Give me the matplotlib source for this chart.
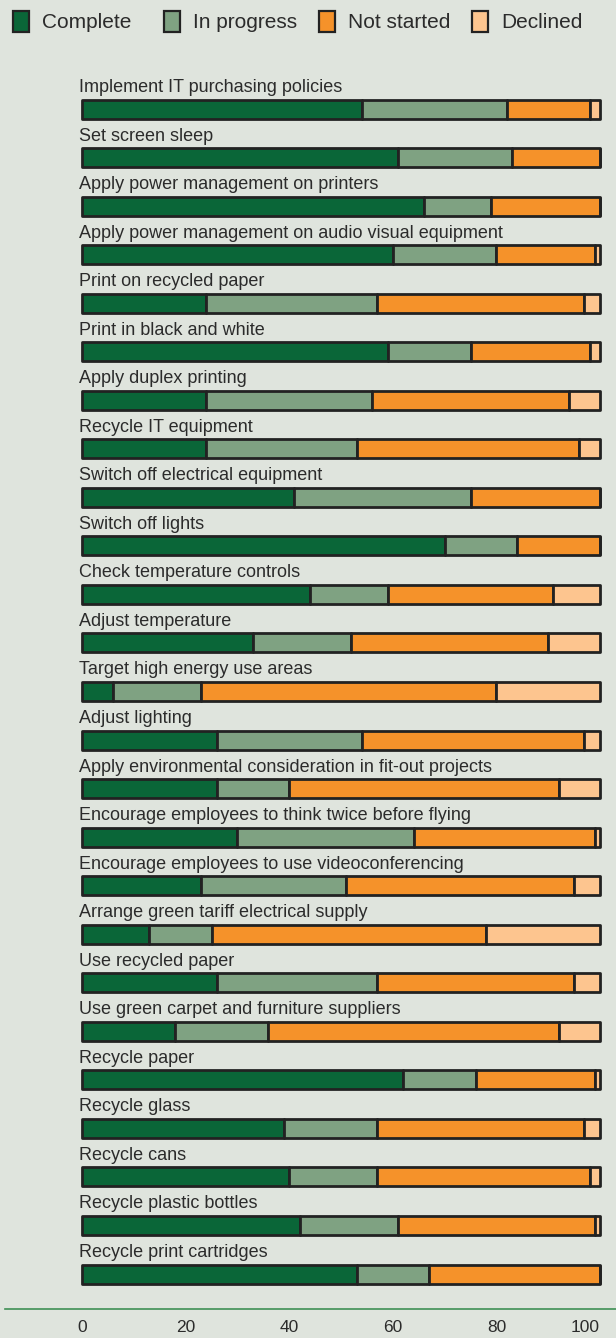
import matplotlib
matplotlib.use('Agg')
import matplotlib.pyplot as plt
from matplotlib.patches import Patch

plt.rcParams['font.family'] = ['Liberation Sans', 'DejaVu Sans']

# Office green actions - share of organisations by status (%)
tasks = [
    'Implement IT purchasing policies',
    'Set screen sleep',
    'Apply power management on printers',
    'Apply power management on audio visual equipment',
    'Print on recycled paper',
    'Print in black and white',
    'Apply duplex printing',
    'Recycle IT equipment',
    'Switch off electrical equipment',
    'Switch off lights',
    'Check temperature controls',
    'Adjust temperature',
    'Target high energy use areas',
    'Adjust lighting',
    'Apply environmental consideration in fit-out projects',
    'Encourage employees to think twice before flying',
    'Encourage employees to use videoconferencing',
    'Arrange green tariff electrical supply',
    'Use recycled paper',
    'Use green carpet and furniture suppliers',
    'Recycle paper',
    'Recycle glass',
    'Recycle cans',
    'Recycle plastic bottles',
    'Recycle print cartridges',
]
complete = [54, 61, 66, 60, 24, 59, 24, 24, 41, 70, 44, 33, 6, 26, 26, 30, 23, 13, 26, 18, 62, 39, 40, 42, 53]
in_progress = [28, 22, 13, 20, 33, 16, 32, 29, 34, 14, 15, 19, 17, 28, 14, 34, 28, 12, 31, 18, 14, 18, 17, 19, 14]
not_started = [16, 17, 21, 19, 40, 23, 38, 43, 25, 16, 32, 38, 57, 43, 52, 35, 44, 53, 38, 56, 23, 40, 41, 38, 33]
declined = [2, 0, 0, 1, 3, 2, 6, 4, 0, 0, 9, 10, 20, 3, 8, 1, 5, 22, 5, 8, 1, 3, 2, 1, 0]

series_names = ['Complete', 'In progress', 'Not started', 'Declined']
colors = ['#0a6638', '#7fa282', '#f5922a', '#fdc58f']
x_ticks = [0, 20, 40, 60, 80, 100]

bg = '#dfe4dd'
text_col = '#2b2b2b'
edge_col = '#222222'

W, H = 616, 1338
fig = plt.figure(figsize=(W / 100, H / 100), dpi=100, facecolor=bg)

# axes spans full width; data 0 -> 82px, 100 -> 600px
px_per_unit = (600 - 82) / 100
x_left = (5 - 82) / px_per_unit
x_right = (616 - 82) / px_per_unit
top_px, bottom_px = 60, 1309
ax = fig.add_axes([5 / W, 1 - bottom_px / H, (W - 5) / W, (bottom_px - top_px) / H])
ax.set_facecolor(bg)

n = len(tasks)
last_px = 1274
row_px = (last_px - 109) / (n - 1)
ax.set_xlim(x_left, x_right)
ax.set_ylim(n - 1 + (bottom_px - last_px) / row_px, -(109 - top_px) / row_px)

ypos = list(range(n))
bar_h = 19 / row_px
left = [0] * n
for vals, name, c in zip([complete, in_progress, not_started, declined], series_names, colors):
    ax.barh(ypos, vals, left=left, height=bar_h, color=c, edgecolor=edge_col,
            linewidth=2.0, joinstyle='round', label=name)
    left = [a + b for a, b in zip(left, vals)]

label_off = (bar_h / 2) + 7.5 / row_px
for i, t in enumerate(tasks):
    ax.text(-0.6, i - label_off, t, fontsize=13, color=text_col,
            ha='left', va='baseline')

for s in ['top', 'left', 'right']:
    ax.spines[s].set_visible(False)
ax.spines['bottom'].set_color('#3f8f55')
ax.spines['bottom'].set_linewidth(1.2)
ax.set_yticks([])
ax.set_xticks(x_ticks)
ax.set_xticklabels([str(v) for v in x_ticks], fontsize=12.5, color=text_col)
ax.tick_params(axis='x', length=0, pad=8)
ax.get_xticklabels()[-1].set_horizontalalignment('right')
ax.get_xticklabels()[-1].set_x(100.5)

# legend entries placed one by one (uneven spacing as in the original)
legend_x = [13, 164, 319, 472]
for c, nm, lx in zip(colors, series_names, legend_x):
    h = Patch(facecolor=c, edgecolor=edge_col, linewidth=1.6, label=nm)
    fig.legend(handles=[h], loc='upper left', bbox_to_anchor=(lx / W, 1 - 11 / H),
               frameon=False, fontsize=15, handlelength=0.77, handleheight=1.15,
               handletextpad=0.62, borderpad=0, borderaxespad=0,
               labelcolor=text_col)

fig.savefig('out.png', dpi=100, facecolor=bg)
